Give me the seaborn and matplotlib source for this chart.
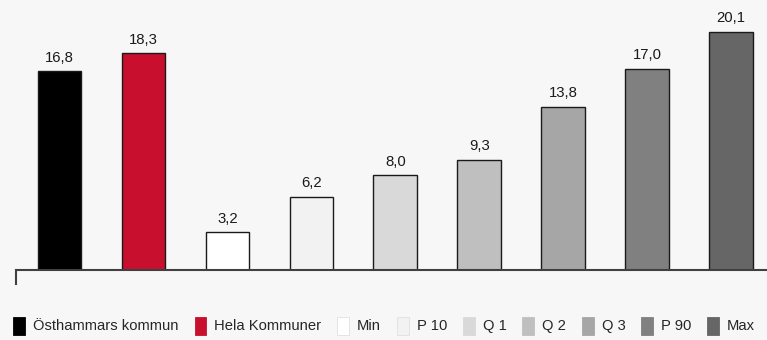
import pandas as pd
import matplotlib
matplotlib.use("Agg")
import matplotlib.pyplot as plt
import seaborn as sns
from matplotlib.patches import Patch

# data
categories = ['Östhammars kommun', 'Hela Kommuner', 'Min', 'P 10', 'Q 1', 'Q 2', 'Q 3', 'P 90', 'Max']
values = [16.8, 18.3, 3.2, 6.2, 8.0, 9.3, 13.8, 17.0, 20.1]
colors = ['#000000', '#c8102e', '#ffffff', '#f2f2f2', '#d9d9d9', '#bfbfbf', '#a6a6a6', '#808080', '#666666']

df = pd.DataFrame({'cat': categories, 'val': values})

sns.set_style('white')
plt.rcParams['font.family'] = ['Liberation Sans', 'DejaVu Sans']

bg = '#f7f7f7'
fig = plt.figure(figsize=(7.67, 3.40), dpi=100, facecolor=bg)
ax = fig.add_axes([16 / 767, 70 / 340, 751 / 767, 270 / 340])
ax.set_facecolor('none')

sns.barplot(data=df, x='cat', y='val', hue='cat', palette=colors, legend=False, saturation=1,
            width=0.52, edgecolor='#1a1a1a', linewidth=1.0, ax=ax)

for i, v in enumerate(values):
    ax.text(i, v + 0.55, f"{v:.1f}".replace('.', ','), ha='center', va='bottom', fontsize=10.7, color='#1a1a1a')

ax.set_xlim(-0.52, 8.43)
ax.set_ylim(0, 22.8)
ax.set_xlabel('')
ax.set_ylabel('')
ax.set_yticks([])
ax.set_xticks([-0.52])
ax.set_xticklabels([''])
ax.tick_params(axis='x', direction='out', length=11, width=1.5, color='#404040', bottom=True)
for s in ['left', 'right', 'top']:
    ax.spines[s].set_visible(False)
ax.spines['bottom'].set_color('#404040')
ax.spines['bottom'].set_linewidth(1.5)

handles = [Patch(facecolor=c, edgecolor='#e0e0e0' if c in ('#ffffff', '#f2f2f2') else c, linewidth=0.6)
           for c in colors]
fig.legend(handles, categories, loc='lower left', bbox_to_anchor=(0.006, -0.01), ncol=9, frameon=False,
           fontsize=10.6, handlelength=0.8, handleheight=1.5, handletextpad=0.55, columnspacing=1.07,
           borderaxespad=0.2)

fig.savefig('out.png', dpi=100, facecolor=bg)
